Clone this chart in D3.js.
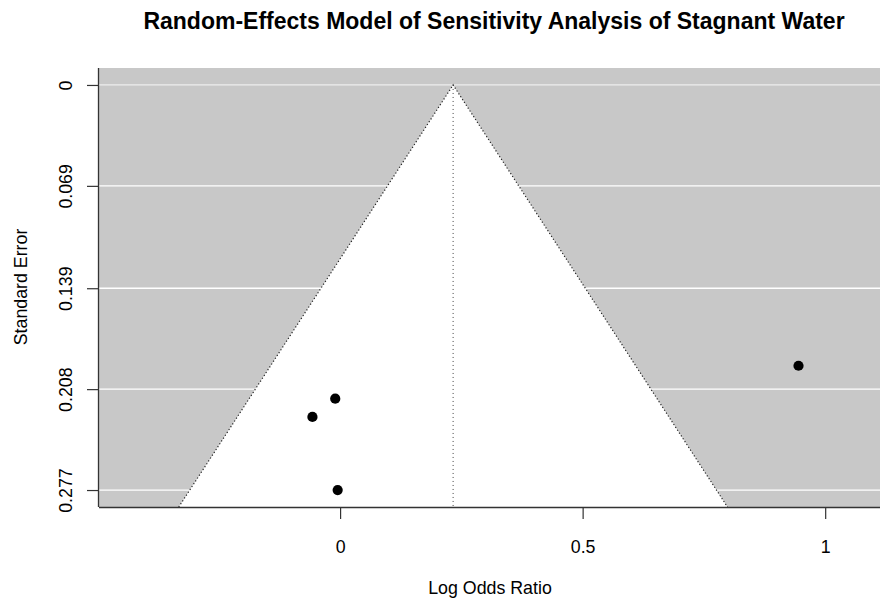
<!DOCTYPE html>
<html><head><meta charset="utf-8">
<script src="https://cdn.jsdelivr.net/npm/d3@7"></script>
<style>body{margin:0;background:#fff;}svg text{font-family:"Liberation Sans",Arial,sans-serif;fill:#000;}</style>
</head><body><svg id="c" width="880" height="600"></svg>
<script>
const title = "Random-Effects Model of Sensitivity Analysis of Stagnant Water";
const xLabel = "Log Odds Ratio";
const yLabel = "Standard Error";
const studyLogOR = [0.945, -0.010, -0.057, -0.005];
const studySE = [0.192, 0.2145, 0.227, 0.277];
const pooledEstimate = 0.233;
const xTicks = [0, 0.5, 1];
const yTicks = [0, 0.069, 0.139, 0.208, 0.277];
const xDomain = [-0.497, 1.113];
const yDomain = [-0.0116, 0.2886];

const svg = d3.select("#c");
const L = 99, R = 880, T = 68, B = 507;
const x = d3.scaleLinear().domain(xDomain).range([L, R]);
const y = d3.scaleLinear().domain(yDomain).range([T, B]);

// grey background
svg.append("rect").attr("x", L).attr("y", T).attr("width", R - L).attr("height", B - T).attr("fill", "#c8c8c8");
// white gridlines
svg.selectAll("line.grid").data(yTicks).enter().append("line")
  .attr("x1", L).attr("x2", R).attr("y1", d => y(d)).attr("y2", d => y(d))
  .attr("stroke", (d, i) => i === 0 ? "#eeeeee" : "#fff").attr("stroke-width", 1.3);
// funnel
const seMax = yDomain[1];
const funnel = [[pooledEstimate - 1.96 * seMax, seMax], [pooledEstimate, 0], [pooledEstimate + 1.96 * seMax, seMax]];
svg.append("path").attr("d", d3.line().x(d => x(d[0])).y(d => y(d[1]))(funnel) + "Z").attr("fill", "#fff");
svg.append("path").attr("d", d3.line().x(d => x(d[0])).y(d => y(d[1]))(funnel))
  .attr("fill", "none").attr("stroke", "#222").attr("stroke-width", 1.2).attr("stroke-dasharray", "1.2,2.2");
svg.append("line").attr("x1", x(pooledEstimate)).attr("x2", x(pooledEstimate)).attr("y1", y(0)).attr("y2", B)
  .attr("stroke", "#444").attr("stroke-width", 1).attr("stroke-dasharray", "1,3");

// points
svg.selectAll("circle.pt").data(studyLogOR).enter().append("circle")
  .attr("cx", d => x(d)).attr("cy", (d, i) => y(studySE[i])).attr("r", 5.1).attr("fill", "#000");

// axes
const yAxis = d3.axisLeft(y).tickValues(yTicks).tickSize(12).tickFormat(d => d3.format("")(d));
const gy = svg.append("g").attr("transform", `translate(${L},0)`).call(yAxis);
gy.select(".domain").attr("d", `M-0.5,${T}V${B}`).attr("stroke", "#333").attr("stroke-width", 1.3);
gy.selectAll(".tick line").attr("stroke", "#333").attr("stroke-width", 1.2);
gy.selectAll(".tick text").attr("font-size", 17.8).attr("font-family", "Liberation Sans, Arial, sans-serif")
  .attr("transform", "rotate(-90)")
  .attr("x", 0).attr("y", -27.5).attr("dy", 0).attr("text-anchor", "middle");

const xAxis = d3.axisBottom(x).tickValues(xTicks).tickSize(12).tickFormat(d3.format(""));
const gx = svg.append("g").attr("transform", `translate(0,${B})`).call(xAxis);
gx.select(".domain").attr("d", `M${L},0.5H${R}`).attr("stroke", "#333").attr("stroke-width", 1.3);
gx.selectAll(".tick line").attr("stroke", "#333").attr("stroke-width", 1.2);
gx.selectAll(".tick text").attr("font-size", 17.8).attr("font-family", "Liberation Sans, Arial, sans-serif")
  .attr("y", 46).attr("dy", 0);

// labels
svg.append("text").attr("x", 494).attr("y", 29).attr("text-anchor", "middle")
  .attr("font-size", 23).attr("font-weight", "bold").text(title);
svg.append("text").attr("x", 490).attr("y", 594).attr("text-anchor", "middle").attr("font-size", 17.8).text(xLabel);
svg.append("text").attr("transform", "translate(27,287) rotate(-90)").attr("text-anchor", "middle")
  .attr("font-size", 17.8).text(yLabel);
</script></body></html>
